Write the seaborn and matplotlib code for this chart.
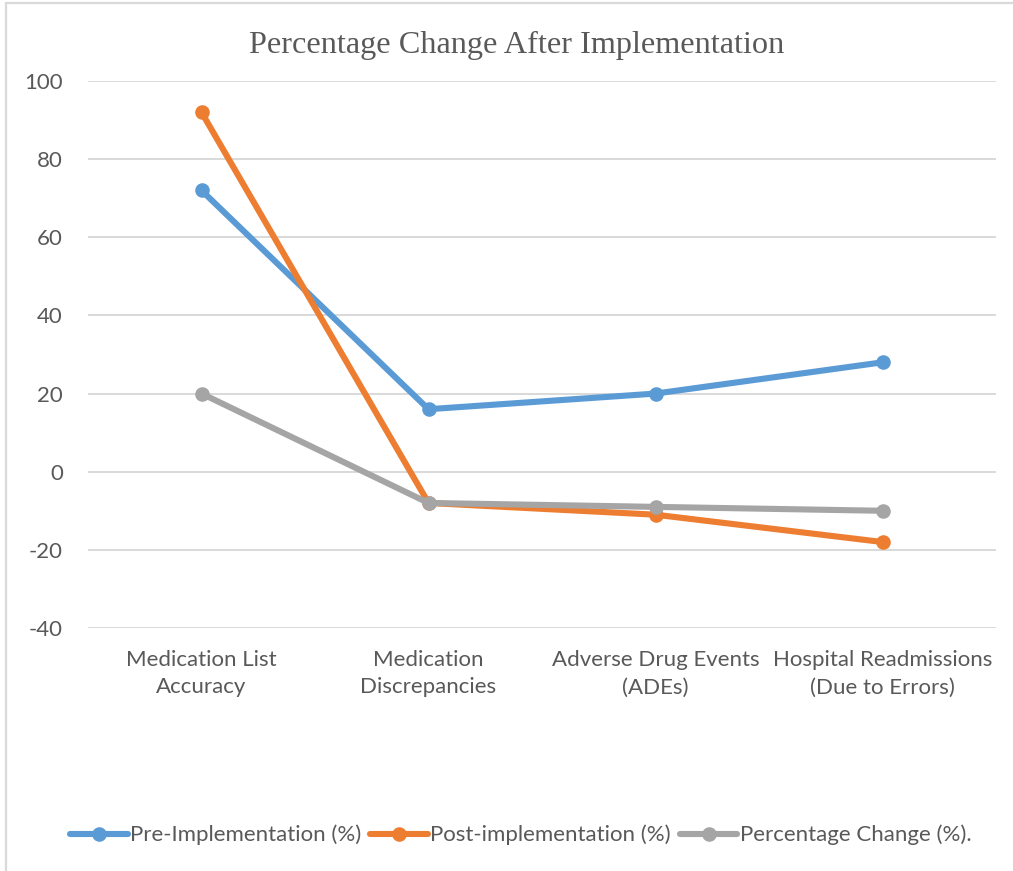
import matplotlib
matplotlib.use("Agg")
import matplotlib.pyplot as plt
import seaborn as sns
import pandas as pd
from matplotlib.patches import Rectangle

categories = [
    "Medication List\nAccuracy",
    "Medication\nDiscrepancies",
    "Adverse Drug Events\n(ADEs)",
    "Hospital Readmissions\n(Due to Errors)",
]
pre_impl = [72, 16, 20, 28]
post_impl = [92, -8, -11, -18]
pct_change = [20, -8, -9, -10]

series_names = ["Pre-Implementation (%)", "Post-implementation (%)", "Percentage Change (%)."]
series_colors = ["#5B9BD5", "#ED7D31", "#A5A5A5"]
y_ticks = [-40, -20, 0, 20, 40, 60, 80, 100]

rows = []
for name, vals in zip(series_names, [pre_impl, post_impl, pct_change]):
    for cat, v in zip(categories, vals):
        rows.append({"Category": cat, "Value": v, "Series": name})
df = pd.DataFrame(rows)

sns.set_theme(style="white")
plt.rcParams["font.family"] = ["Lato", "DejaVu Sans"]

fig = plt.figure(figsize=(10.13, 8.71), dpi=100)
ax = fig.add_axes([88 / 1013, 1 - 628 / 871, (996 - 88) / 1013, (628 - 81) / 871])

sns.lineplot(
    data=df, x="Category", y="Value", hue="Series", hue_order=series_names,
    palette=series_colors, sort=False, linewidth=4.4, marker="o",
    markersize=10.5, markeredgewidth=0, ax=ax, legend=True,
)

ax.set_xlim(-0.5, 3.5)
ax.set_ylim(-40, 100)
ax.set_yticks(y_ticks)
ax.set_yticklabels([str(t) for t in y_ticks])
ax.yaxis.grid(True, color="#D9D9D9", linewidth=1.4)
ax.xaxis.grid(False)
for s in ax.spines.values():
    s.set_visible(False)
ax.set_xlabel("")
ax.set_ylabel("")
ax.tick_params(axis="both", colors="#595959", labelsize=16, length=0)
ax.tick_params(axis="y", pad=18)
ax.tick_params(axis="x", pad=16)
for lbl in ax.get_xticklabels():
    lbl.set_linespacing(1.45)

# Title
fig.text(0.51, 1 - 45 / 871, "Percentage Change After Implementation",
         ha="center", va="center", fontsize=23.2, color="#595959",
         family=["Liberation Serif", "DejaVu Serif"])

# Legend below the chart
handles, labels = ax.get_legend_handles_labels()
ax.legend_.remove()
leg = fig.legend(
    handles, labels, loc="center", bbox_to_anchor=(0.514, 1 - 835 / 871),
    ncol=3, frameon=False, fontsize=16, handlelength=2.6,
    handletextpad=0.1, columnspacing=0.4,
)
for t in leg.get_texts():
    t.set_color("#595959")

# Chart-area border
fig.patches.append(Rectangle((6 / 1013, -0.01), 1.1, 1 - 3 / 871 + 0.01,
                             transform=fig.transFigure, fill=False,
                             edgecolor="#D9D9D9", linewidth=1.6))

fig.savefig("out.png", dpi=100)
